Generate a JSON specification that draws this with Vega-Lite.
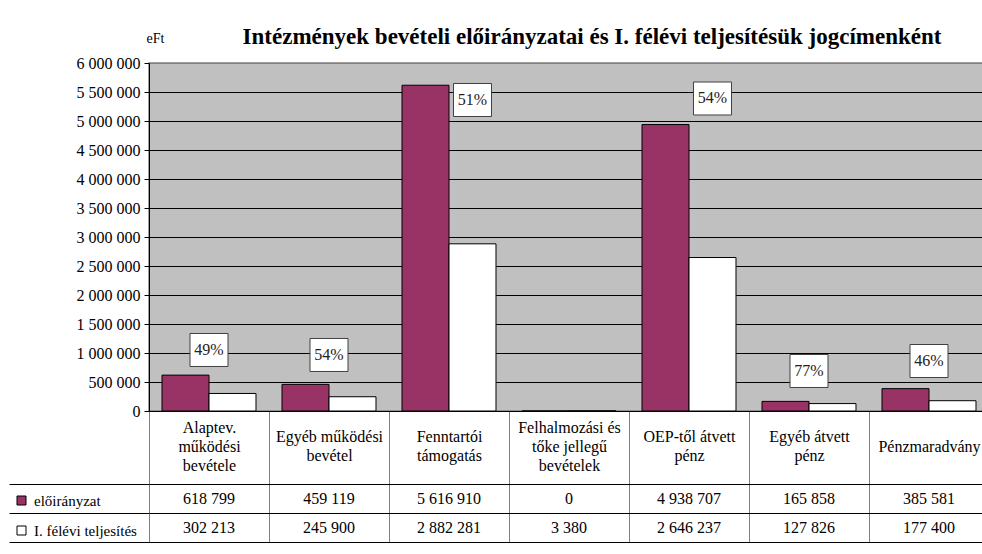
{
  "$schema": "https://vega.github.io/schema/vega-lite/v6.json",
  "padding": {"left": 8, "top": 25, "right": 0, "bottom": 5},
  "background": "white",
  "config": {
    "locale": {"number": {"decimal": ",", "thousands": " ", "grouping": [3], "currency": ["", ""]}},
    "font": "Liberation Serif",
    "axisY": {
      "values": [0, 500000, 1000000, 1500000, 2000000, 2500000, 3000000, 3500000, 4000000, 4500000, 5000000, 5500000, 6000000],
      "format": ",d", "labelFont": "Liberation Serif", "labelFontSize": 16, "labelColor": "black", "labelOverlap": false,
      "tickColor": "black", "tickSize": 5, "labelPadding": 4, "domainColor": "black",
      "grid": true, "gridColor": "black", "gridOpacity": 1,
      "titleAngle": 0, "titleX": -3, "titleY": -21, "titleAlign": "left", "titleBaseline": "alphabetic",
      "titleFont": "Liberation Serif", "titleFontSize": 14, "titleFontWeight": "normal", "titleColor": "black"
    }
  },
  "datasets": {
    "vals": [
      {"cat": "Alaptev. működési bevétele", "series": "előirányzat", "value": 618799},
      {"cat": "Alaptev. működési bevétele", "series": "I. félévi teljesítés", "value": 302213},
      {"cat": "Egyéb működési bevétel", "series": "előirányzat", "value": 459119},
      {"cat": "Egyéb működési bevétel", "series": "I. félévi teljesítés", "value": 245900},
      {"cat": "Fenntartói támogatás", "series": "előirányzat", "value": 5616910},
      {"cat": "Fenntartói támogatás", "series": "I. félévi teljesítés", "value": 2882281},
      {"cat": "Felhalmozási és tőke jellegű bevételek", "series": "előirányzat", "value": 0},
      {"cat": "Felhalmozási és tőke jellegű bevételek", "series": "I. félévi teljesítés", "value": 3380},
      {"cat": "OEP-től átvett pénz", "series": "előirányzat", "value": 4938707},
      {"cat": "OEP-től átvett pénz", "series": "I. félévi teljesítés", "value": 2646237},
      {"cat": "Egyéb átvett pénz", "series": "előirányzat", "value": 165858},
      {"cat": "Egyéb átvett pénz", "series": "I. félévi teljesítés", "value": 127826},
      {"cat": "Pénzmaradvány", "series": "előirányzat", "value": 385581},
      {"cat": "Pénzmaradvány", "series": "I. félévi teljesítés", "value": 177400}
    ],
    "labels": [
      {"cat": "Alaptev. működési bevétele", "pct": "49%", "ly": 1052000, "anchor": "center"},
      {"cat": "Egyéb működési bevétel", "pct": "54%", "ly": 966000, "anchor": "center"},
      {"cat": "Fenntartói támogatás", "pct": "51%", "ly": 5362000, "anchor": "I. félévi teljesítés"},
      {"cat": "OEP-től átvett pénz", "pct": "54%", "ly": 5388000, "anchor": "I. félévi teljesítés"},
      {"cat": "Egyéb átvett pénz", "pct": "77%", "ly": 690000, "anchor": "center"},
      {"cat": "Pénzmaradvány", "pct": "46%", "ly": 862000, "anchor": "center"}
    ]
  },
  "vconcat": [
    {
      "width": 840,
      "height": 348,
      "view": {"fill": "#C0C0C0", "stroke": "#808080", "strokeWidth": 1.5},
      "title": {
        "text": "Intézmények bevételi előirányzatai és I. félévi teljesítésük jogcímenként",
        "font": "Liberation Serif", "fontSize": 23, "fontWeight": "bold", "color": "black",
        "anchor": "middle", "offset": -18, "dx": 23
      },
      "encoding": {
        "x": {
          "field": "cat", "type": "nominal", "sort": null,
          "scale": {"paddingInner": 0, "paddingOuter": 0},
          "axis": {
            "title": null, "labelAngle": 0, "tickBand": "extent", "tickSize": 73, "tickColor": "#7f7f7f",
            "domainColor": "black", "labelFont": "Liberation Serif", "labelFontSize": 16, "labelColor": "black",
            "labelBaseline": "top", "labelLineHeight": 19, "labelOverlap": false, "labelLimit": 0,
            "labelPadding": {
              "condition": [
                {"test": "datum.value == 'Alaptev. működési bevétele' || datum.value == 'Felhalmozási és tőke jellegű bevételek'", "value": -65},
                {"test": "datum.value == 'Pénzmaradvány'", "value": -46}
              ],
              "value": -55.5
            },
            "labelExpr": "datum.label == 'Alaptev. működési bevétele' ? ['Alaptev.', 'működési', 'bevétele'] : datum.label == 'Egyéb működési bevétel' ? ['Egyéb működési', 'bevétel'] : datum.label == 'Fenntartói támogatás' ? ['Fenntartói', 'támogatás'] : datum.label == 'Felhalmozási és tőke jellegű bevételek' ? ['Felhalmozási  és', 'tőke jellegű', 'bevételek'] : datum.label == 'OEP-től átvett pénz' ? ['OEP-től átvett', 'pénz'] : datum.label == 'Egyéb átvett pénz' ? ['Egyéb átvett', 'pénz'] : datum.label"
          }
        }
      },
      "layer": [
        {
          "data": {"name": "vals"},
          "mark": {"type": "bar", "stroke": "black", "strokeWidth": 1},
          "encoding": {
            "xOffset": {"field": "series", "type": "nominal",
              "scale": {"domain": ["előirányzat", "I. félévi teljesítés"], "paddingInner": 0, "paddingOuter": 0.277}},
            "y": {
              "field": "value", "type": "quantitative", "title": "eFt",
              "scale": {"domain": [0, 6000000], "nice": false},
              "axis": {"gridColor": {"condition": {"test": "datum.value === 6000000", "value": "#808080"}, "value": "black"}}
            },
            "color": {
              "field": "series", "type": "nominal",
              "scale": {"domain": ["előirányzat", "I. félévi teljesítés"], "range": ["#993366", "#FFFFFF"]},
              "legend": {
                "orient": "none", "legendX": -135, "legendY": 430, "direction": "vertical", "title": null,
                "symbolType": "square", "symbolSize": 81, "symbolStrokeColor": "black", "symbolStrokeWidth": 1,
                "symbolOpacity": 1, "labelFont": "Liberation Serif", "labelFontSize": 15, "labelColor": "black",
                "rowPadding": 14, "labelOffset": 5, "padding": 0
              }
            }
          }
        },
        {
          "data": {"name": "labels"},
          "transform": [{"filter": "datum.anchor == 'center'"}],
          "encoding": {
            "y": {"field": "ly", "type": "quantitative", "title": "eFt",
              "axis": {"gridColor": {"condition": {"test": "datum.value === 6000000", "value": "#808080"}, "value": "black"}}}
          },
          "layer": [
            {"mark": {"type": "point", "shape": "M-1,-0.868L1,-0.868L1,0.868L-1,0.868Z", "size": 1444, "filled": true, "fill": "white", "stroke": "#404040", "strokeWidth": 1, "opacity": 1}},
            {"mark": {"type": "text", "font": "Liberation Serif", "fontSize": 16, "color": "#222222"}, "encoding": {"text": {"field": "pct"}}}
          ]
        },
        {
          "data": {"name": "labels"},
          "transform": [{"filter": "datum.anchor != 'center'"}],
          "encoding": {
            "y": {"field": "ly", "type": "quantitative", "title": "eFt",
              "axis": {"gridColor": {"condition": {"test": "datum.value === 6000000", "value": "#808080"}, "value": "black"}}},
            "xOffset": {"field": "anchor", "type": "nominal"}
          },
          "layer": [
            {"mark": {"type": "point", "shape": "M-1,-0.868L1,-0.868L1,0.868L-1,0.868Z", "size": 1444, "filled": true, "fill": "white", "stroke": "#404040", "strokeWidth": 1, "opacity": 1}},
            {"mark": {"type": "text", "font": "Liberation Serif", "fontSize": 16, "color": "#222222"}, "encoding": {"text": {"field": "pct"}}}
          ]
        }
      ]
    },
    {
      "width": 840,
      "height": 58,
      "view": {"fill": "white", "stroke": "black"},
      "data": {"name": "vals"},
      "mark": {"type": "text", "font": "Liberation Serif", "fontSize": 16, "color": "black"},
      "encoding": {
        "x": {
          "field": "cat", "type": "nominal", "sort": null,
          "scale": {"paddingInner": 0, "paddingOuter": 0},
          "axis": {"orient": "top", "labels": false, "ticks": false, "domain": false, "grid": true, "gridColor": "#7f7f7f", "gridOpacity": 1, "tickBand": "extent", "title": null}
        },
        "y": {
          "field": "series", "type": "nominal", "sort": ["előirányzat", "I. félévi teljesítés"],
          "scale": {"paddingInner": 0, "paddingOuter": 0},
          "axis": {"labels": false, "tickSize": 140, "tickColor": "black", "domain": false, "grid": true, "gridColor": "black", "gridOpacity": 1, "tickBand": "extent", "title": null, "values": null, "labelOverlap": true}
        },
        "text": {"field": "value", "type": "quantitative", "format": ",d"}
      }
    }
  ],
  "spacing": 73,
  "bounds": "flush",
  "resolve": {"scale": {"x": "shared"}}
}
